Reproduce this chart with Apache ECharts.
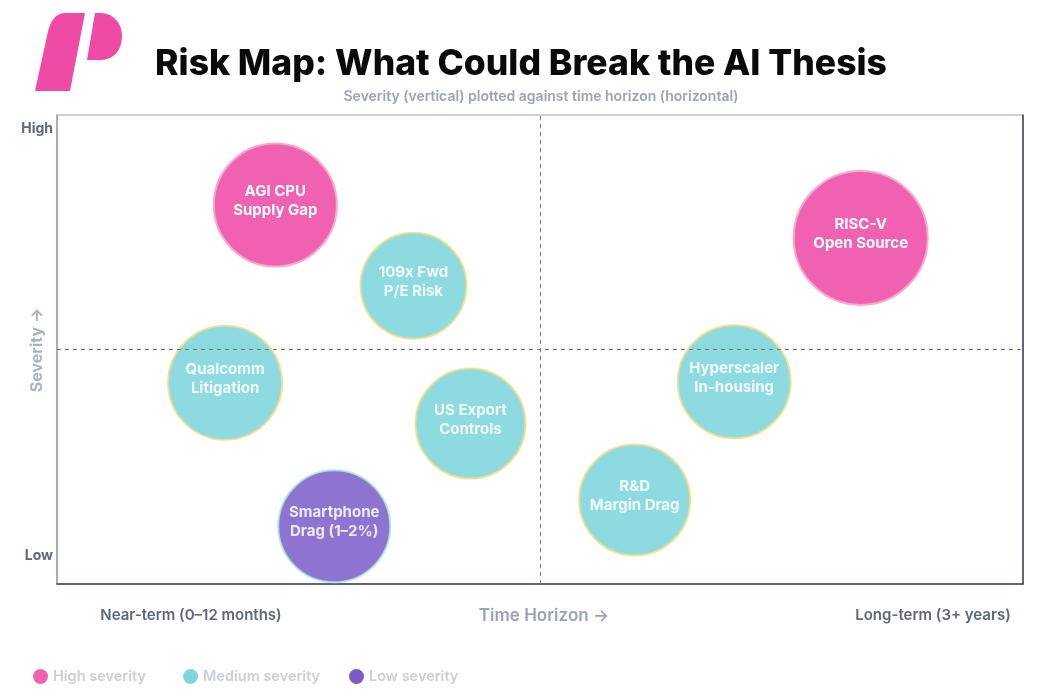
<!DOCTYPE html>
<html>
<head>
<meta charset="utf-8">
<script src="https://cdn.jsdelivr.net/npm/echarts@6/dist/echarts.min.js"></script>
<style>
html,body{margin:0;padding:0;background:#fff;}
#chart{width:1038px;height:700px;}
</style>
</head>
<body>
<div id="chart"></div>
<script>
// ---- data ----
const riskNames = ['AGI CPU\nSupply Gap', '109x Fwd\nP/E Risk', 'Qualcomm\nLitigation', 'US Export\nControls', 'Smartphone\nDrag (1–2%)', 'RISC-V\nOpen Source', 'Hyperscaler\nIn-housing', 'R&D\nMargin Drag'];
const timeHorizon = [22.6, 36.9, 17.4, 42.8, 28.7, 83.2, 70.1, 59.8];   // 0 = near-term, 100 = long-term
const severity    = [80.8, 63.6, 42.9, 34.2, 12.3, 73.8, 43.1, 17.9];   // 0 = low, 100 = high
const bubbleSize  = [123, 106, 114, 110, 112, 134, 113, 111];
const severityClass = ['High', 'Medium', 'Medium', 'Medium', 'Low', 'High', 'Medium', 'Medium'];
const classNames = ['High', 'Medium', 'Low'];
const legendLabels = ['High severity', 'Medium severity', 'Low severity'];
const yTickLabels = ['High', 'Low'];
const xTickLabels = ['Near-term (0–12 months)', 'Long-term (3+ years)'];

const classColor = {High: '#F062B1', Medium: '#7DD6DC', Low: '#7B5BC9'};
const classBorder = {High: '#F6A9C9', Medium: '#F2DE86', Low: '#A9EBD3'};
const classOpacity = {High: 1, Medium: 0.88, Low: 0.85};
const legendLeft = [28, 178, 344];

const FONT = 'Inter, "Noto Sans", sans-serif';

// helper: sample a cubic bezier into polygon points
function bez(p0, p1, p2, p3, n) {
  const out = [];
  for (let k = 1; k <= n; k++) {
    const t = k / n, u = 1 - t;
    out.push([
      u*u*u*p0[0] + 3*u*u*t*p1[0] + 3*u*t*t*p2[0] + t*t*t*p3[0],
      u*u*u*p0[1] + 3*u*u*t*p1[1] + 3*u*t*t*p2[1] + t*t*t*p3[1]
    ]);
  }
  return out;
}
const stemPts = [[35,91],[70,91],[85,13],[66,13]].concat(bez([66,13],[56,13],[50,20],[47,36],8));
const bowlPts = [[95,13],[87,60],[100,60]]
  .concat(bez([100,60],[114,60],[122,50],[122,36],10))
  .concat(bez([122,36],[122,22],[112,13],[100,13],10));

const series = classNames.map((cls, ci) => {
  const pts = [];
  riskNames.forEach((n, i) => {
    if (severityClass[i] === cls) pts.push({name: n, value: [timeHorizon[i], severity[i], bubbleSize[i]]});
  });
  const s = {
    name: legendLabels[ci],
    type: 'scatter',
    data: pts,
    symbolSize: v => v[2],
    itemStyle: {color: classColor[cls], borderColor: classBorder[cls], borderWidth: 2, opacity: classOpacity[cls]},
    label: {
      show: true, position: 'inside', formatter: p => p.name, offset: [0, -4],
      color: '#fff', fontFamily: FONT, fontWeight: 700, fontSize: 15, lineHeight: 19
    },
    emphasis: {disabled: true},
    z: 3
  };
  if (ci === 0) {
    s.markLine = {
      silent: true, symbol: 'none', animation: false,
      lineStyle: {color: '#777', type: [4, 4], width: 1},
      label: {show: false},
      data: [{xAxis: 50}, {yAxis: 50}]
    };
  }
  return s;
});

const chart = echarts.init(document.getElementById('chart'));
chart.setOption({
  animation: false,
  backgroundColor: '#fff',
  title: [
    {text: 'Risk Map: What Could Break the AI Thesis', left: 516, top: 41, textAlign: 'center',
     textStyle: {fontFamily: FONT, fontWeight: 800, fontSize: 35.5, color: '#0a0a0a'}},
    {text: 'Severity (vertical) plotted against time horizon (horizontal)', left: 536, top: 85, textAlign: 'center',
     textStyle: {fontFamily: FONT, fontWeight: 600, fontSize: 14, color: '#9AA3B5'}}
  ],
  legend: legendLabels.map((l, i) => ({
    left: legendLeft[i], top: 664, itemWidth: 15, itemHeight: 15, icon: 'circle',
    data: [{name: l, itemStyle: {color: classColor[classNames[i]], borderWidth: 0, opacity: 1}}],
    textStyle: {fontFamily: FONT, fontWeight: 600, fontSize: 14.5, color: '#C9CED8'},
    itemStyle: {borderWidth: 0},
    selectedMode: false
  })),
  grid: {left: 57, right: 15, top: 115, bottom: 116, show: true, borderColor: '#9AA0AA', borderWidth: 1},
  xAxis: {type: 'value', min: 0, max: 100, axisLabel: {show: false}, axisTick: {show: false}, splitLine: {show: false},
          axisLine: {show: true, lineStyle: {color: '#3C4452', width: 1.5}}},
  yAxis: [
    {type: 'value', min: 0, max: 100, axisLabel: {show: false}, axisTick: {show: false}, splitLine: {show: false},
     axisLine: {show: true, lineStyle: {color: '#9AA0AA', width: 1.5}}},
    {type: 'value', min: 0, max: 100, position: 'right', axisLabel: {show: false}, axisTick: {show: false}, splitLine: {show: false},
     axisLine: {show: true, lineStyle: {color: '#3C4452', width: 1.5}}}
  ],
  series: series,
  graphic: [
    {type: 'polygon', shape: {points: stemPts}, style: {fill: '#EE4AA6'}},
    {type: 'polygon', shape: {points: bowlPts}, style: {fill: '#EE4AA6'}},
    {type: 'text', x: 53, y: 129, style: {text: yTickLabels[0], align: 'right', verticalAlign: 'middle', fill: '#5C6880', font: '700 14px ' + FONT}},
    {type: 'text', x: 53, y: 556, style: {text: yTickLabels[1], align: 'right', verticalAlign: 'middle', fill: '#5C6880', font: '700 14px ' + FONT}},
    {type: 'text', x: 37, y: 350, rotation: Math.PI / 2, style: {text: 'Severity →', align: 'center', verticalAlign: 'middle', fill: '#A9B2C3', font: '700 16px ' + FONT}},
    {type: 'text', x: 191, y: 615, style: {text: xTickLabels[0], align: 'center', verticalAlign: 'middle', fill: '#5C6880', font: '600 15px ' + FONT}},
    {type: 'text', x: 544, y: 616, style: {text: 'Time Horizon →', align: 'center', verticalAlign: 'middle', fill: '#9AA3B5', font: '600 17px ' + FONT}},
    {type: 'text', x: 933, y: 615, style: {text: xTickLabels[1], align: 'center', verticalAlign: 'middle', fill: '#5C6880', font: '600 15px ' + FONT}}
  ]
});
</script>
</body>
</html>
